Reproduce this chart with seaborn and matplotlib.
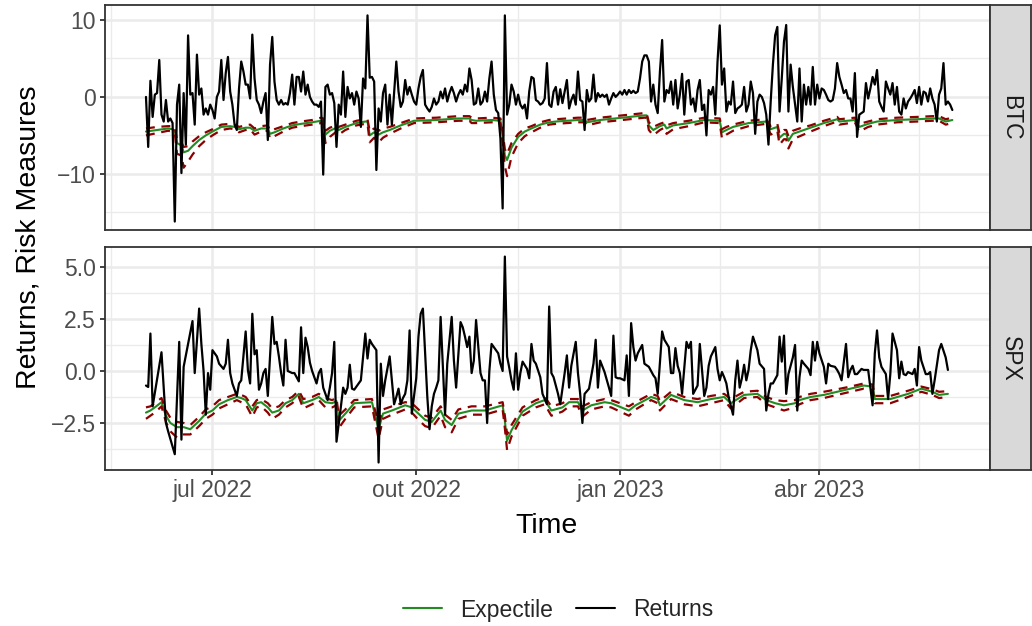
import numpy as np
import pandas as pd
import matplotlib
matplotlib.use("Agg")
import matplotlib.pyplot as plt
import matplotlib.dates as mdates
from matplotlib.lines import Line2D
import seaborn as sns

sns.set_theme(style="white")
plt.rcParams['font.family'] = ['Liberation Sans', 'DejaVu Sans']

# ---------------- data ----------------
start_date = "2022-06-01"

# BTC daily returns (one value per calendar day from start_date)
btc_returns = [
    0.0, -6.5, 2.1, -2.6, 0.3, 0.5, 4.8, -2.3, -3.2, -0.4,
    -3.2, -2.8, -3.4, -16.2, -1.0, 1.6, -9.9, 0.5, -6.2, 8.0,
    0.3, 0.5, -3.6, 5.5, 0.3, 1.1, -2.3, -1.5, -2.3, -1.0,
    -1.7, -2.8, 0.0, 0.7, 4.8, -0.4, 3.1, 5.2, 0.7, -1.0,
    -3.6, -4.3, 1.1, 4.6, 3.3, 1.6, 1.6, -0.2, 8.1, 2.4,
    -0.4, -1.0, -2.1, -0.6, 0.5, -5.6, 4.2, 7.8, 2.0, -0.4,
    -1.0, -0.4, -1.0, -0.8, -1.0, 0.5, 2.9, -1.0, 2.6, 2.6,
    0.7, 3.3, 0.3, 1.6, 0.0, -0.6, -1.0, -1.0, -1.3, -0.6,
    -10.1, 1.3, 1.6, 0.3, 0.5, -0.8,
    -6.5, -1.0, -2.3, 3.3, -2.6, 1.3, -0.2, 0.5, -1.0, 0.7,
    -0.2, -3.9, 2.4, 1.1, 10.6, 2.5, 2.6, 2.0, -9.5, -1.5,
    -3.2, 0.5, 1.6, -3.6, 0.3, -3.6, 0.5, 4.6, 0.7, -1.3,
    -0.6, 2.2, 0.3, 1.3, 0.3, -0.6, -1.0, 1.1, 2.6, 3.5,
    -1.0, -1.5, -1.9, -1.3, -0.2, -1.0, -0.6, 0.7, -0.2, 1.1,
    -0.6, 0.5, 1.3, 0.5, -0.6, 0.3, 0.9, 0.3, 1.6, 0.7,
    3.7, 2.2, -1.0, -0.8, 1.1, -1.0, -0.6, 0.7, -0.6, 2.4,
    4.6, 0.3, -1.7, -2.1, -5.4, -14.5, 10.6, -2.3, -1.0, 1.6,
    0.7, -1.0, 0.3, -1.0, -1.5, -1.0, -2.8, 0.7, 2.6, 2.4,
    -0.4, -0.6, -1.0, -0.8, -0.2, 4.4, -1.0, -1.3, 0.7,
    1.3, -1.0, 1.0, -0.8, 0.7, 2.2, -1.5, -0.4, 0.3, -1.0,
    3.3, -0.4, -0.6, -4.3, 0.9, -0.6, -0.2, 2.9, -0.6, 0.5,
    0.0, 0.3, 0.0, 0.3, -1.0, -0.2, 0.5, 0.0, 0.3, 0.7,
    0.3, 0.9, 0.3, 0.9, 0.5, 0.8, 0.5, 0.7, 2.4, 4.6,
    5.4, 5.4, 4.6, -0.6, 1.6, -1.0, -2.1, 3.3, 7.4, -0.6,
    0.9, 0.5, 2.0, -1.0, 2.2, -1.5, 0.3, 3.0, -2.3, 2.0,
    2.2, -1.0, -0.2, -1.9, 0.9, 2.2, -1.7, -1.0, -5.0, 0.9,
    0.3, 1.3, -2.3, 4.6, 9.3, 1.6, 3.7, -1.9, -0.6, -1.0,
    2.0, -2.1, -1.5, -1.3, -1.0, 1.3, -1.9, -1.0, 2.0, 0.5,
    -4.8, -0.6, 0.3, 0.0, -0.8, -2.3, -6.2,
    -0.6, 4.2, 8.0, 9.1, -1.9, 2.4, 7.2, 9.35, -1.9, 4.2,
    1.3, -1.0, -3.2, 3.7, -3.2, 1.6, -1.0, 1.3, -1.0, 3.9,
    -1.0, 1.6, -0.2, 1.1, 0.9, 0.3, -0.4, -0.6, -0.4, 1.1,
    4.4, 2.6, 1.6, 0.5, 0.9, -0.2, -0.2, -1.9, 3.1, -5.2,
    -2.3, -2.1, -1.9, 1.8, -0.2, 1.1, 2.6, 1.6, 3.5, -0.6,
    -1.3, -1.9, 2.0, 1.1, 0.3, 1.8, -1.0, 1.3, -1.9, -2.3,
    -0.2, -1.5, -0.6, -0.2, 0.3, 0.9, -0.8, 1.3, -1.0, 0.7,
    0.5, -0.6, 1.1, -0.2, -1.0, -3.2, 0.3, 1.1, 4.4, -1.0,
    -0.6, -1.0, -1.7,
]

# BTC risk measures (day offsets from start_date)
btc_risk_days = [0, 5, 10, 12, 13, 14, 16, 17, 19, 21, 24, 27, 30, 34, 38, 40, 42, 45, 47, 49,
                 52, 55, 56, 58, 62, 66, 70, 75, 79, 80, 81, 83, 86, 87, 90, 95, 99, 100, 101, 103,
                 105, 107, 110, 115, 121, 131, 141, 146, 147, 149, 156, 160, 161, 162, 163, 165, 168, 171, 174, 178,
                 182, 185, 195, 198, 199, 205, 215, 225, 226, 227, 229, 232, 234, 235, 238, 245, 252, 259, 260, 262,
                 265, 272, 280, 282, 285, 286, 288, 289, 290, 292, 296, 300, 306, 312, 313, 320, 322, 326, 330, 339,
                 348, 355, 358, 361, 364]
btc_expectile = [-4.5, -4.3, -4.1, -4.2, -4.4, -6.0, -6.3, -7.2, -7.0, -6.4, -5.6, -5.0, -4.5, -3.9, -3.8, -3.9, -4.2, -4.0, -4.0, -4.4,
                 -4.1, -4.1, -4.8, -4.6, -4.1, -3.7, -3.5, -3.3, -3.1, -3.2, -4.9, -4.4, -4.0, -4.3, -3.9, -3.4, -3.2, -3.2, -5.0, -4.6,
                 -4.9, -4.6, -4.3, -3.7, -3.1, -3.0, -2.8, -2.8, -3.0, -3.1, -3.0, -3.1, -5.0, -7.6, -8.2, -6.6, -5.2, -4.5, -4.1, -3.6,
                 -3.3, -3.2, -3.0, -3.0, -3.3, -3.0, -2.7, -2.4, -2.4, -3.7, -4.3, -3.8, -3.6, -4.1, -3.7, -3.4, -3.0, -3.1, -4.6, -4.3,
                 -3.9, -3.4, -3.2, -4.2, -3.9, -5.3, -4.8, -4.8, -5.7, -4.8, -4.4, -4.0, -3.4, -2.9, -3.2, -3.0, -3.9, -3.5, -3.2, -3.0,
                 -2.9, -2.8, -2.8, -3.2, -3.0]
btc_upper = [-4.1, -3.9, -3.8, -3.8, -4.0, -5.5, -5.9, -6.5, -6.4, -5.8, -5.1, -4.6, -4.2, -3.6, -3.5, -3.6, -3.9, -3.7, -3.6, -4.1,
             -3.8, -3.7, -4.4, -4.2, -3.8, -3.4, -3.2, -3.0, -2.7, -2.8, -4.4, -4.0, -3.7, -3.9, -3.6, -3.1, -2.9, -2.9, -4.5, -4.1,
             -4.4, -4.1, -3.9, -3.4, -2.8, -2.7, -2.5, -2.5, -2.7, -2.8, -2.7, -2.8, -4.5, -6.8, -7.4, -6.0, -4.8, -4.1, -3.8, -3.3,
             -3.0, -2.9, -2.7, -2.7, -3.0, -2.7, -2.4, -2.1, -2.1, -3.3, -3.9, -3.5, -3.3, -3.7, -3.4, -3.1, -2.7, -2.8, -4.2, -3.9,
             -3.6, -3.1, -2.9, -3.8, -3.5, -4.8, -4.3, -4.3, -5.1, -4.4, -4.0, -3.7, -3.1, -2.6, -2.9, -2.7, -3.5, -3.2, -2.9, -2.7,
             -2.6, -2.5, -2.5, -2.9, -2.7]
btc_lower = [-5.0, -4.7, -4.4, -4.5, -4.7, -7.4, -7.6, -9.2, -8.4, -7.5, -6.4, -5.6, -5.0, -4.3, -4.1, -4.2, -4.6, -4.3, -4.2, -4.9,
             -4.5, -4.4, -5.4, -5.1, -4.5, -4.0, -3.8, -3.6, -3.4, -3.5, -6.0, -5.2, -4.5, -4.9, -4.3, -3.7, -3.5, -3.5, -5.9, -5.3,
             -5.9, -5.3, -4.8, -4.1, -3.4, -3.3, -3.1, -3.1, -3.4, -3.4, -3.3, -3.4, -6.0, -9.0, -10.3, -7.8, -6.0, -5.1, -4.6, -4.0,
             -3.6, -3.5, -3.3, -3.3, -3.7, -3.3, -3.0, -2.7, -2.7, -4.3, -5.0, -4.3, -4.0, -4.8, -4.2, -3.8, -3.3, -3.4, -5.4, -4.9,
             -4.4, -3.8, -3.5, -4.9, -4.4, -6.2, -5.5, -5.5, -6.7, -5.5, -5.0, -4.5, -3.8, -3.2, -3.6, -3.3, -4.5, -3.9, -3.6, -3.3,
             -3.2, -3.1, -3.1, -3.6, -3.4]

# SPX returns (trading days, as day offsets from start_date)
spx_ret_days = [0, 1, 2, 3, 7, 9, 10, 13, 15, 16, 17, 19, 21, 22, 24, 25, 26, 27, 28, 29,
                30, 32, 33, 35, 36, 37, 38, 39, 41, 42, 43, 45, 46, 47, 48, 49, 50, 51, 52, 53,
                54, 55, 57, 58, 59, 60, 61, 62, 63, 64, 66, 67, 69, 70, 71, 72, 73, 74, 75, 77,
                78, 79, 80, 82, 83, 84, 85, 86, 88, 89, 90, 91, 92, 93, 94, 96, 97, 99, 100, 101,
                102, 104, 105, 106, 107, 108, 110, 112, 113, 114, 115, 116, 117, 118, 119, 120, 122, 123, 124, 125,
                127, 128, 129, 130, 131, 132, 133, 135, 136, 137, 138, 139, 140, 142, 143, 144, 145, 146, 147, 148,
                149, 150, 151, 152, 153, 154, 155, 156, 157, 159, 160, 161, 162, 163, 164, 165, 166, 167, 168, 169,
                170, 172, 173, 174, 175, 176, 178, 179, 181, 182, 183, 184, 186, 187, 189, 190, 191, 192, 194, 195,
                196, 197, 198, 200, 202, 203, 204, 205, 207, 209, 210, 211, 212, 213, 214, 216, 217, 218, 219, 220,
                221, 222, 224, 225, 227, 228, 229, 230, 231, 233, 234, 236, 237, 238, 239, 240, 241, 242, 244, 245,
                246, 247, 248, 249, 250, 252, 253, 254, 255, 257, 258, 259, 260, 261, 262, 263, 265, 266, 267, 268,
                269, 270, 271, 272, 273, 274, 276, 277, 279, 280, 281, 282, 283, 285, 286, 287, 288, 289, 290, 292,
                293, 294, 295, 296, 297, 299, 300, 301, 302, 303, 304, 306, 307, 308, 309, 311, 312, 313, 314, 316,
                317, 318, 319, 320, 321, 323, 324, 326, 328, 329, 330, 331, 332, 334, 335, 336, 337, 339, 340, 341,
                342, 343, 344, 346, 347, 348, 349, 350, 352, 353, 354, 355, 356, 358, 359, 361, 362]
spx_returns = [-0.7, -0.77, 1.8, -1.7, 0.9, -2.5, -2.9, -4.0, 1.4, -3.3, 0.2, 1.3, 2.4, -0.1, 3.0, 1.3, 0.0, -2.1, -0.1, -0.9,
               1.0, 0.7, 0.35, 0.1, 0.35, 1.5, -0.1, -0.6, -1.2, -0.6, -0.45, 1.9, 0.05, -0.6, 2.75, 0.8, 1.0, -0.9, -0.6, -0.1,
               0.1, -1.2, 2.6, 1.3, 1.4, 0.7, -0.1, -0.7, 1.5, 0.0, -0.1, -0.1, -0.5, 2.1, -0.1, 1.6, 1.15, 0.4, 0.0, -0.6,
               -0.1, 0.1, -0.8, -1.4, -0.8, -0.1, 1.4, -3.4, -1.7, -0.8, -1.1, -0.8, 0.3, -0.85, -0.9, -0.6, -0.45, 1.8, 0.6, 1.5,
               1.3, 1.0, -4.4, 0.35, -1.2, -0.45, 0.7, -1.6, -1.25, -0.85, -1.6, -1.3, -1.1, -0.45, 1.95, -2.05, -0.35, 1.65, 2.75, 3.0,
               -1.25, -2.8, -1.7, -1.1, -0.8, -0.45, 2.6, -2.1, 0.35, 1.5, 2.6, 0.5, -0.8, 2.35, 2.1, 1.65, 1.15, 1.65, -0.1, 0.5,
               2.45, 1.15, -0.1, -0.45, -0.45, -2.5, 0.0, 1.3, 1.15, 0.85, 0.35, 0.0, 5.5, 0.7, 0.15, -0.45, -0.9, 0.85, -0.9, -0.1,
               0.45, 0.1, -0.35, 1.3, 0.5, 0.35, -0.3, -1.1, -1.6, 3.1, -0.1, -0.3, -1.1, -1.6, -0.1, 0.75, -0.8, 0.25, 1.4, -0.1,
               -1.1, -2.5, -1.1, -0.85, 0.35, 1.5, -0.8, 0.5, -0.05, -0.8, -1.2, 1.7, -0.3, -0.35, -0.35, -0.45, 0.75, -1.2, 2.3, 1.15,
               0.5, 0.85, 1.25, 0.35, 0.2, 0.0, -0.2, -0.35, -1.1, 1.9, 1.5, 1.15, -0.1, -0.1, 1.1, 0.25, -0.1, -1.1, 1.4, 1.1,
               1.4, -1.1, -0.9, -0.7, 1.3, -1.2, -0.8, 0.25, 0.7, 1.15, 0.1, -0.45, -0.05, -0.3, -0.6, -1.25, -2.1, -0.45, 0.5, -0.8,
               -0.35, 0.3, -0.45, 0.05, 1.0, 1.65, 1.0, 0.35, 0.1, -1.9, -1.1, -0.6, -0.6, -0.2, 1.65, 0.45, 1.7, -1.1, -0.15, 0.65,
               1.25, -1.9, -0.3, 0.5, 0.35, 0.1, -0.2, 1.4, 0.5, 1.4, 0.85, 0.2, -0.6, 0.35, 0.25, 0.2, 0.05, -0.15, -0.45, 1.3,
               -0.3, 0.05, 0.25, -0.15, -0.15, 0.1, 0.05, 0.05, -1.65, 0.85, 1.95, 0.65, 0.2, -0.15, -1.35, -0.15, 1.8, 1.0, -0.35, 0.45,
               -0.15, -0.2, -0.05, -0.15, 0.1, -0.7, 1.15, 0.5, -0.15, -0.15, -0.05, -1.1, -0.45, 1.0, 1.3, 0.65, 0.05]

# SPX risk measures
spx_risk_days = [0, 2, 4, 7, 9, 11, 14, 17, 20, 22, 24, 27, 30, 33, 37, 41, 43, 45, 48, 50,
                 52, 55, 57, 60, 63, 66, 69, 71, 75, 78, 81, 84, 86, 87, 90, 94, 102, 105, 107, 111,
                 117, 120, 123, 126, 129, 133, 135, 138, 141, 147, 153, 161, 162, 163, 165, 170, 176, 180, 183, 188,
                 191, 195, 197, 201, 207, 210, 218, 221, 228, 231, 232, 237, 243, 249, 255, 261, 264, 270, 276, 280,
                 284, 288, 293, 295, 300, 306, 312, 318, 324, 328, 329, 336, 344, 350, 355, 358, 362]
spx_expectile = [-2.0, -1.9, -1.75, -1.5, -2.15, -2.5, -2.7, -2.7, -2.8, -2.6, -2.4, -2.05, -1.9, -1.6, -1.4, -1.25, -1.3, -1.4, -1.9, -1.55,
                 -1.5, -1.75, -2.0, -1.9, -1.55, -1.4, -1.1, -1.55, -1.4, -1.25, -1.5, -1.55, -1.45, -2.4, -2.05, -1.55, -1.5, -2.8, -2.05, -1.9,
                 -1.65, -1.75, -2.05, -2.35, -2.45, -1.9, -2.35, -2.6, -2.05, -1.9, -1.9, -1.65, -2.4, -3.35, -2.85, -1.95, -1.55, -1.4, -1.9, -1.75,
                 -1.5, -1.5, -1.9, -1.65, -1.5, -1.55, -1.9, -1.65, -1.25, -1.35, -1.65, -1.15, -1.4, -1.5, -1.35, -1.25, -1.55, -1.15, -1.1, -1.4,
                 -1.55, -1.65, -1.55, -1.4, -1.25, -1.15, -1.0, -0.85, -0.7, -0.75, -1.35, -1.35, -1.1, -0.85, -1.0, -1.15, -1.1]
spx_upper = [-1.75, -1.7, -1.55, -1.3, -1.9, -2.25, -2.45, -2.5, -2.6, -2.4, -2.2, -1.85, -1.7, -1.4, -1.25, -1.1, -1.15, -1.25, -1.7, -1.4,
             -1.35, -1.55, -1.8, -1.7, -1.4, -1.25, -0.95, -1.35, -1.25, -1.1, -1.3, -1.4, -1.3, -2.15, -1.85, -1.4, -1.35, -2.5, -1.85, -1.7,
             -1.5, -1.55, -1.85, -2.15, -2.25, -1.7, -2.1, -2.35, -1.85, -1.7, -1.7, -1.5, -2.15, -3.05, -2.6, -1.75, -1.4, -1.25, -1.7, -1.55,
             -1.35, -1.35, -1.7, -1.5, -1.35, -1.4, -1.7, -1.5, -1.1, -1.2, -1.45, -1.0, -1.25, -1.35, -1.2, -1.1, -1.35, -1.0, -0.95, -1.25,
             -1.4, -1.45, -1.4, -1.25, -1.1, -1.0, -0.88, -0.75, -0.6, -0.65, -1.2, -1.2, -0.95, -0.75, -0.88, -1.0, -0.97]
spx_lower = [-2.3, -2.15, -2.0, -1.7, -2.45, -2.9, -3.2, -3.05, -3.05, -2.85, -2.65, -2.3, -2.1, -1.8, -1.6, -1.4, -1.5, -1.6, -2.2, -1.75,
             -1.7, -2.0, -2.3, -2.1, -1.75, -1.55, -1.25, -1.8, -1.6, -1.4, -1.75, -1.75, -1.65, -2.75, -2.3, -1.75, -1.7, -3.25, -2.3, -2.1,
             -1.85, -2.0, -2.35, -2.65, -2.75, -2.15, -2.7, -2.95, -2.3, -2.1, -2.1, -1.85, -2.75, -3.8, -3.15, -2.15, -1.75, -1.6, -2.15, -1.95,
             -1.7, -1.7, -2.2, -1.85, -1.7, -1.75, -2.15, -1.85, -1.4, -1.55, -1.9, -1.35, -1.6, -1.7, -1.55, -1.4, -1.8, -1.3, -1.25, -1.6,
             -1.75, -1.9, -1.75, -1.6, -1.4, -1.3, -1.15, -1.0, -0.85, -0.9, -1.55, -1.55, -1.25, -1.0, -1.15, -1.3, -1.25]

panel_names = ["BTC", "SPX"]
x_tick_dates = ["2022-07-01", "2022-10-01", "2023-01-01", "2023-04-01"]
x_tick_labels = ["jul 2022", "out 2022", "jan 2023", "abr 2023"]
x_minor_dates = ["2022-05-16", "2022-08-16", "2022-11-16", "2023-02-15", "2023-05-16"]
btc_yticks = [-10, 0, 10]
btc_yticklabels = ["\u221210", "0", "10"]
btc_yminor = [-15, -5, 5]
spx_yticks = [-2.5, 0.0, 2.5, 5.0]
spx_yticklabels = ["\u22122.5", "0.0", "2.5", "5.0"]
spx_yminor = [-3.75, -1.25, 1.25, 3.75]

# ---------------- figure ----------------
W, H = 1032, 626
fig = plt.figure(figsize=(W / 100, H / 100), dpi=100)
fig.patch.set_facecolor("white")


def fax(l, t, r, b):
    return fig.add_axes([l / W, 1 - b / H, (r - l) / W, (b - t) / H])


ax1 = fax(105, 5, 990, 230)
ax2 = fax(105, 247, 990, 470)
st1 = fax(990, 5, 1031, 230)
st2 = fax(990, 247, 1031, 470)

t0 = pd.Timestamp(start_date)
btc_dates = pd.date_range(start_date, periods=len(btc_returns), freq="D")
btc_risk_dates = t0 + pd.to_timedelta(btc_risk_days, unit="D")
spx_dates = t0 + pd.to_timedelta(spx_ret_days, unit="D")
spx_risk_dates = t0 + pd.to_timedelta(spx_risk_days, unit="D")

GREEN = "#228B22"
DRED = "#8B0000"
GRID = "#EBEBEB"
DARK = "#333333"


def draw(ax, ret_dates, rets, rdates, expt, up, low):
    sns.lineplot(x=rdates, y=expt, ax=ax, color=GREEN, lw=1.5, estimator=None)
    sns.lineplot(x=rdates, y=up, ax=ax, color=DRED, lw=1.6, estimator=None,
                 linestyle=(0, (4, 3)))
    sns.lineplot(x=rdates, y=low, ax=ax, color=DRED, lw=1.6, estimator=None,
                 linestyle=(0, (4, 3)))
    sns.lineplot(x=ret_dates, y=rets, ax=ax, color="black", lw=1.6, estimator=None)


draw(ax1, btc_dates, btc_returns, btc_risk_dates, btc_expectile, btc_upper, btc_lower)
draw(ax2, spx_dates, spx_returns, spx_risk_dates, spx_expectile, spx_upper, spx_lower)

xlim = (mdates.date2num(t0 + pd.Timedelta(days=-18.5)), mdates.date2num(t0 + pd.Timedelta(days=381.0)))
xt = [mdates.date2num(pd.Timestamp(d)) for d in x_tick_dates]
xm = [mdates.date2num(pd.Timestamp(d)) for d in x_minor_dates]

for ax, yt, ytl, ym, ylim in [(ax1, btc_yticks, btc_yticklabels, btc_yminor, (-17.3, 11.95)),
                              (ax2, spx_yticks, spx_yticklabels, spx_yminor, (-4.76, 5.96))]:
    ax.set_xlim(*xlim)
    ax.set_ylim(*ylim)
    ax.set_xlabel("")
    ax.set_ylabel("")
    ax.set_facecolor("white")
    ax.set_xticks(xt)
    ax.set_xticks(xm, minor=True)
    ax.set_yticks(yt)
    ax.set_yticklabels(ytl)
    ax.set_yticks(ym, minor=True)
    ax.grid(True, which="major", color=GRID, lw=1.8, zorder=0)
    ax.grid(True, which="minor", color=GRID, lw=0.95, zorder=0)
    ax.set_axisbelow(True)
    for s in ax.spines.values():
        s.set_color(DARK)
        s.set_linewidth(1.3)
    ax.tick_params(axis="y", which="major", length=3.6, width=1.3, color=DARK,
                   labelsize=16.5, labelcolor="#4D4D4D", pad=3, left=True)
    ax.tick_params(axis="both", which="minor", length=0)

ax1.tick_params(axis="x", which="major", length=0, labelbottom=False)
ax2.set_xticklabels(x_tick_labels)
ax2.tick_params(axis="x", which="major", length=3.6, width=1.3, color=DARK,
                labelsize=16.5, labelcolor="#4D4D4D", pad=3, bottom=True)

for st, name in [(st1, panel_names[0]), (st2, panel_names[1])]:
    st.set_facecolor("#D9D9D9")
    st.set_xticks([])
    st.set_yticks([])
    for s in st.spines.values():
        s.set_color(DARK)
        s.set_linewidth(1.3)
    st.text(0.5, 0.5, name, rotation=-90, ha="center", va="center",
            fontsize=16.5, color="#1A1A1A", transform=st.transAxes)

fig.text(547 / W, 1 - 526 / H, "Time", ha="center", va="center", fontsize=20.5, color="black")
fig.text(29 / W, 1 - 237 / H, "Returns, Risk Measures", ha="center", va="center",
         rotation=90, fontsize=20.5, color="black")

handles = [Line2D([], [], color=GREEN, lw=1.5), Line2D([], [], color="black", lw=1.5)]
fig.legend(handles, ["Expectile", "Returns"], loc="center", ncol=2, frameon=False,
           bbox_to_anchor=(558 / W, 1 - 610 / H), fontsize=16.5, handlelength=1.7,
           handletextpad=0.8, columnspacing=1.0)

fig.savefig("out.png", dpi=100, facecolor="white")
